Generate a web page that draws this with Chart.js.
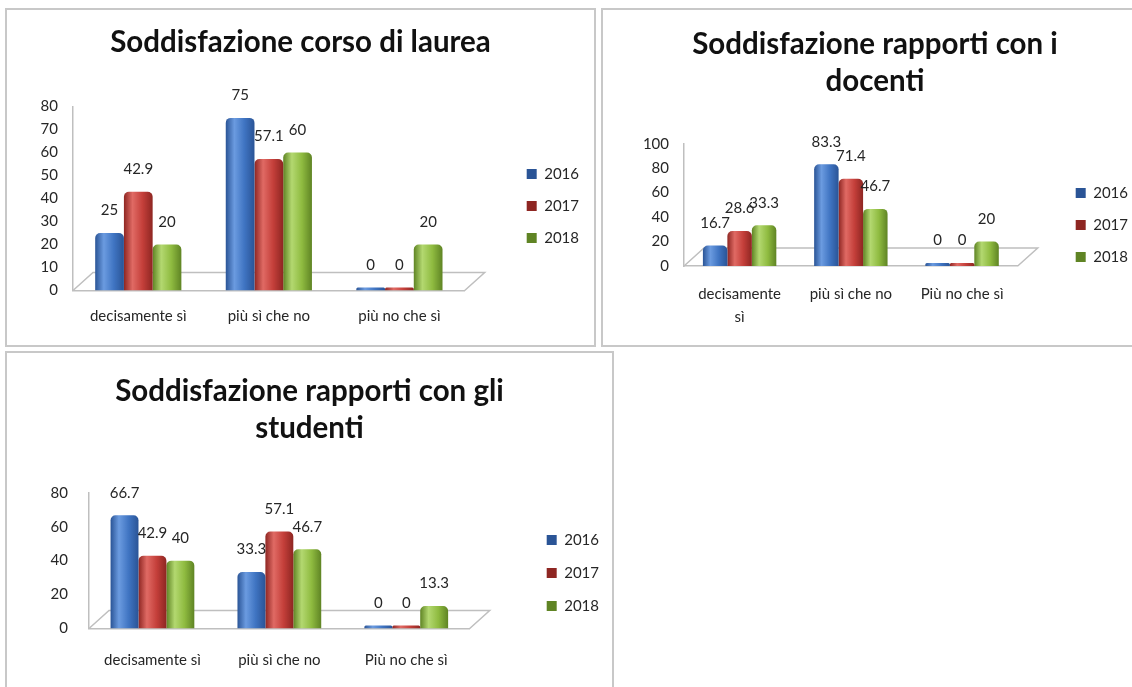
<!DOCTYPE html>
<html>
<head>
<meta charset="utf-8">
<script src="https://cdn.jsdelivr.net/npm/chart.js@4.4.0/dist/chart.umd.min.js"></script>
<style>
  html, body { margin: 0; padding: 0; background: #fff; overflow: hidden; }
  body { width: 1132px; height: 687px; position: relative; }
  .panel { position: absolute; border: 2px solid #c8c8c8; box-sizing: border-box; background: #fff; }
  .panel canvas { display: block; }
  #p1 { left: 5px; top: 8px; width: 591px; height: 339px; }
  #p2 { left: 601px; top: 8px; width: 548px; height: 339px; }
  #p3 { left: 5px; top: 351px; width: 609px; height: 350px; }
</style>
</head>
<body>
<div class="panel" id="p1"><canvas id="c1" width="587" height="335"></canvas></div>
<div class="panel" id="p2"><canvas id="c2" width="544" height="335"></canvas></div>
<div class="panel" id="p3"><canvas id="c3" width="605" height="346"></canvas></div>
<script>
// data
const years = ['2016', '2017', '2018'];

const corsoLabels = ['decisamente sì', 'più sì che no', 'più no che sì'];
const corso2016 = [25, 75, 0];
const corso2017 = [42.9, 57.1, 0];
const corso2018 = [20, 60, 20];

const docentiLabels = [['decisamente', 'sì'], 'più sì che no', 'Più no che sì'];
const docenti2016 = [16.7, 83.3, 0];
const docenti2017 = [28.6, 71.4, 0];
const docenti2018 = [33.3, 46.7, 20];

const studentiLabels = ['decisamente sì', 'più sì che no', 'Più no che sì'];
const studenti2016 = [66.7, 33.3, 0];
const studenti2017 = [42.9, 57.1, 0];
const studenti2018 = [40, 46.7, 13.3];

// axis ranges: [max, step]
const corsoAxis = [80, 10];
const docentiAxis = [100, 20];
const studentiAxis = [80, 20];

// colours: base, dark, light
const palette = [
    ['#3f74c2', '#2a5496', '#6b9be0'],
    ['#c43f3a', '#8e2622', '#e06a64'],
    ['#8fbb40', '#5f8424', '#b3d870']
];
const CAT_PCT = 0.66;
const FONT = 'Lato';

// cylinder-ish shading, computed from the x scale
function cylinder(i) {
    const [base, dark, light] = palette[i];
    return function(c) {
        const chart = c.chart;
        const x = chart.scales.x;
        if (c.dataIndex === undefined || !x || !x.width) return base;
        const n = chart.data.labels.length;
        const bw = (x.width / n) * CAT_PCT / chart.data.datasets.length;
        const cx = x.getPixelForValue(c.dataIndex) + (c.datasetIndex - 1) * bw;
        const g = chart.ctx.createLinearGradient(cx - bw / 2, 0, cx + bw / 2, 0);
        g.addColorStop(0, dark);
        g.addColorStop(0.3, light);
        g.addColorStop(0.65, base);
        g.addColorStop(1, dark);
        return g;
    };
}

// numbers above the bars
const valueLabels = {
    id: 'valueLabels',
    afterDatasetsDraw(chart) {
        const ctx = chart.ctx;
        ctx.save();
        ctx.font = '15px ' + FONT;
        ctx.fillStyle = '#262626';
        ctx.textAlign = 'center';
        ctx.textBaseline = 'bottom';
        chart.data.datasets.forEach((ds, i) => {
            chart.getDatasetMeta(i).data.forEach((bar, j) => {
                ctx.fillText(String(ds.data[j]), bar.x, bar.y - 15);
            });
        });
        ctx.restore();
    }
};

// the grey floor outline behind the bars
const floor = {
    id: 'floor',
    beforeDatasetsDraw(chart) {
        const {left, right, bottom} = chart.chartArea;
        const ctx = chart.ctx;
        ctx.save();
        ctx.strokeStyle = '#bfbfbf';
        ctx.lineWidth = 1.5;
        ctx.beginPath();
        ctx.moveTo(left, bottom);
        ctx.lineTo(left + 20, bottom - 18);
        ctx.lineTo(right + 20, bottom - 18);
        ctx.lineTo(right, bottom);
        ctx.stroke();
        ctx.restore();
    }
};

function makeChart(id, opts) {
    const datasets = opts.series.map((data, i) => ({
        label: years[i],
        data: data,
        backgroundColor: cylinder(i),
        borderWidth: 0,
        borderRadius: {topLeft: 5, topRight: 5},
        borderSkipped: 'bottom',
        minBarLength: 3,
        categoryPercentage: CAT_PCT,
        barPercentage: 1
    }));
    return new Chart(document.getElementById(id), {
        type: 'bar',
        data: { labels: opts.labels, datasets: datasets },
        plugins: [floor, valueLabels],
        options: {
            responsive: false,
            animation: false,
            layout: { padding: { left: opts.side, right: opts.side, top: 0, bottom: opts.bottom } },
            plugins: {
                title: {
                    display: true,
                    text: opts.title,
                    color: '#111',
                    font: { family: FONT, size: 29.5, weight: 'bold', lineHeight: opts.titleLine },
                    padding: opts.titlePadding
                },
                legend: {
                    position: 'right',
                    // empty title only pushes the items down a little
                    title: { display: true, text: '', padding: 0, font: { size: opts.legendShift, lineHeight: 1 } },
                    labels: {
                        boxWidth: 10,
                        boxHeight: 10,
                        padding: opts.legendPad,
                        color: '#262626',
                        font: { family: FONT, size: 15 }
                    }
                },
                tooltip: { enabled: false }
            },
            scales: {
                x: {
                    grid: { display: false, drawTicks: false },
                    border: { color: '#bfbfbf', width: 1.5 },
                    ticks: {
                        color: '#262626',
                        padding: opts.xPad,
                        maxRotation: 0,
                        autoSkip: false,
                        font: { family: FONT, size: 15, lineHeight: 1.5 }
                    }
                },
                y: {
                    min: 0,
                    max: opts.axis[0],
                    grid: { display: false, drawTicks: false },
                    border: { color: '#bfbfbf', width: 1.5 },
                    ticks: {
                        stepSize: opts.axis[1],
                        autoSkip: false,
                        padding: opts.yPad,
                        color: '#262626',
                        font: { family: FONT, size: 15 }
                    },
                    afterFit(s) { s.width = opts.yWidth; }
                },
                gap: {
                    type: 'linear',
                    axis: 'y',
                    position: 'right',
                    grid: { display: false, drawTicks: false },
                    border: { display: false },
                    ticks: { display: false },
                    afterFit(s) { s.width = opts.gap; }
                }
            }
        }
    });
}

makeChart('c1', {
    labels: corsoLabels,
    series: [corso2016, corso2017, corso2018],
    axis: corsoAxis,
    title: 'Soddisfazione corso di laurea',
    titleLine: 1.2,
    titlePadding: { top: 15, bottom: 46 },
    side: 5,
    bottom: 4,
    yWidth: 61,
    xPad: 14,
    yPad: 15,
    gap: 45,
    legendShift: 61,
    legendPad: 17
});

makeChart('c2', {
    labels: docentiLabels,
    series: [docenti2016, docenti2017, docenti2018],
    axis: docentiAxis,
    title: ['Soddisfazione rapporti con i', 'docenti'],
    titleLine: 1.25,
    titlePadding: { top: 16, bottom: 44 },
    side: 9,
    bottom: 0,
    yWidth: 72,
    xPad: 17,
    yPad: 15,
    gap: 41,
    legendShift: 95,
    legendPad: 17
});

makeChart('c3', {
    labels: studentiLabels,
    series: [studenti2016, studenti2017, studenti2018],
    axis: studentiAxis,
    title: ['Soddisfazione rapporti con gli', 'studenti'],
    titleLine: 1.25,
    titlePadding: { top: 20, bottom: 46 },
    side: 3,
    bottom: 8,
    yWidth: 79,
    xPad: 20,
    yPad: 21,
    gap: 59,
    legendShift: 102,
    legendPad: 18
});
</script>
</body>
</html>
